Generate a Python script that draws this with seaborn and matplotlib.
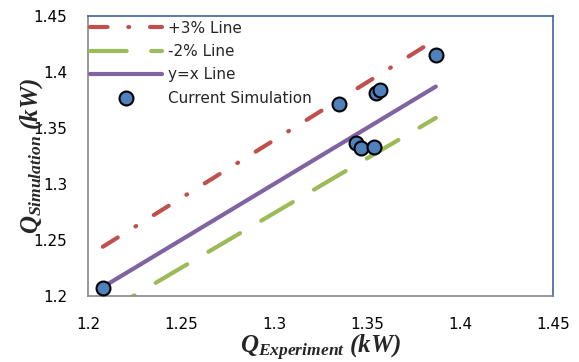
import matplotlib
matplotlib.use("Agg")
import matplotlib.pyplot as plt
import seaborn as sns

# Data
q_experiment = [1.208, 1.335, 1.344, 1.347, 1.354, 1.355, 1.357, 1.387]
q_simulation = [1.207, 1.371, 1.337, 1.332, 1.333, 1.381, 1.384, 1.415]

line_x = [1.208, 1.387]
plus3_y = [1.244, 1.429]
minus2_y = [1.184, 1.359]
yx_y = [1.208, 1.387]

tick_values = [1.2, 1.25, 1.3, 1.35, 1.4, 1.45]
tick_labels = ["1.2", "1.25", "1.3", "1.35", "1.4", "1.45"]

sns.set_style("white")
plt.rcParams["font.family"] = ["DejaVu Sans"]
plt.rcParams["mathtext.fontset"] = "custom"
plt.rcParams["mathtext.it"] = "Liberation Serif:italic:bold"
plt.rcParams["mathtext.rm"] = "Liberation Serif:bold"
plt.rcParams["lines.dash_capstyle"] = "round"
plt.rcParams["lines.solid_capstyle"] = "round"

fig = plt.figure(figsize=(5.79, 3.62), dpi=100)
ax = fig.add_axes([88 / 579, 1 - 296 / 362, 465 / 579, 280 / 362])

lw = 3.0
sns.lineplot(x=line_x, y=plus3_y, color="#C0504D", lw=lw, label="+3% Line", ax=ax)
sns.lineplot(x=line_x, y=minus2_y, color="#9BBB59", lw=lw, label="-2% Line", ax=ax)
sns.lineplot(x=line_x, y=yx_y, color="#8064A2", lw=lw, label="y=x Line", ax=ax)
sns.scatterplot(x=q_experiment, y=q_simulation, s=100, color="#4F81BD",
                edgecolor="black", linewidth=1.5, label="Current Simulation",
                zorder=5, ax=ax)

# Excel-like dash patterns (in units of line width)
ax.lines[0].set_dashes((4.2, 5.0, 0.2, 5.0))
ax.lines[1].set_dashes((8.8, 5.9))
for line in ax.lines:
    line.set_dash_capstyle("round")
    line.set_solid_capstyle("round")

ax.set_xlim(1.2, 1.45)
ax.set_ylim(1.2, 1.45)
ax.set_xticks(tick_values)
ax.set_xticklabels(tick_labels)
ax.set_yticks(tick_values)
ax.set_yticklabels(tick_labels)
ax.tick_params(axis="both", length=0, labelsize=11, colors="black")
ax.tick_params(axis="x", pad=15)
ax.tick_params(axis="y", pad=15)

for side in ["left", "bottom"]:
    ax.spines[side].set_color("#868686")
    ax.spines[side].set_linewidth(1.2)
for side in ["top", "right"]:
    ax.spines[side].set_color("#3B64A0")
    ax.spines[side].set_linewidth(1.2)

label_font = dict(family="Liberation Serif", style="italic", weight="bold", size=18)
ax.set_xlabel(r"$Q_{Experiment}$ (kW)", fontdict=label_font)
ax.set_ylabel(r"$Q_{Simulation}$ (kW)", fontdict=label_font)
ax.xaxis.set_label_coords(0.5, -0.13)
ax.yaxis.set_label_coords(-0.092, 0.5)

leg = ax.legend(loc="upper left", bbox_to_anchor=(0.004, 0.983), frameon=False,
                fontsize=11, handlelength=4.7, handletextpad=0.4, labelspacing=0.54,
                borderpad=0, borderaxespad=0)
for h in leg.get_lines():
    h.set_dash_capstyle("round")
    h.set_solid_capstyle("round")

fig.savefig("out.png", dpi=100)
